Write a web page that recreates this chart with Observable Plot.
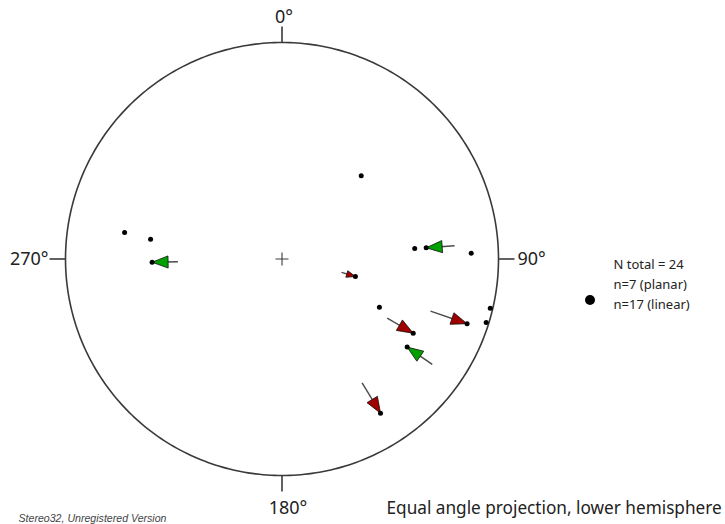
<!DOCTYPE html>
<html>
<head>
<meta charset="utf-8">
<script src="https://cdn.jsdelivr.net/npm/d3@7"></script>
<script src="https://cdn.jsdelivr.net/npm/@observablehq/plot@0.6"></script>
<style>
  html, body { margin: 0; padding: 0; background: #fff; }
  #chart svg { display: block; }
</style>
</head>
<body>
<div id="chart"></div>
<script>
// ---- Data (unit-circle projected coordinates: east = +x, north = +y) ----
// Lineations (black dots)
const linearX = [0.366, 0.613, 0.666, 0.874, 0.339, -0.727, -0.607, -0.600, 0.450, 0.962, 0.943, 0.855, 0.606, 0.578, 0.455];
const linearY = [0.384, 0.048, 0.052, 0.027, -0.081, 0.122, 0.091, -0.015, -0.223, -0.227, -0.293, -0.299, -0.343, -0.407, -0.712];

// Slip arrows (tail -> head)
const arrowTailX = [-0.481, 0.797, 0.275, 0.486, 0.686, 0.694, 0.370];
const arrowTailY = [-0.013, 0.061, -0.062, -0.273, -0.241, -0.487, -0.572];
const arrowHeadX = [-0.600, 0.666, 0.339, 0.606, 0.855, 0.578, 0.455];
const arrowHeadY = [-0.015, 0.052, -0.081, -0.343, -0.299, -0.407, -0.712];
const arrowSense = ["B", "B", "A", "A", "A", "B", "A"];
const senseDomain = ["A", "B"];
const senseColors = ["#a00000", "#00a000"];

// Cardinal directions
const cardinalAngles = [0, 90, 180, 270];
const cardinalLabels = ["0°", "90°", "180°", "270°"];

// Legend / captions
const legendLines = ["N total = 24", "n=7 (planar)", "n=17 (linear)"];
const captionText = "Equal angle projection, lower hemisphere";
const creditText = "Stereo32, Unregistered Version";

// ---- Layout ----
const W = 725, H = 524;
const cx = 281.5, cy = 258.5, R = 216.5;
const X = px => (px - cx) / R;
const Y = py => (cy - py) / R;
const tickOuter = 1 + 16 / R;
const rad = a => a * Math.PI / 180;

const linear = linearX.map((x, i) => ({x, y: linearY[i]}));
const arrows = arrowTailX.map((x1, i) => ({
  x1, y1: arrowTailY[i], x2: arrowHeadX[i], y2: arrowHeadY[i], sense: arrowSense[i]
}));
const cardinals = cardinalAngles.map((a, i) => ({a, label: cardinalLabels[i]}));

// Arrowhead symbol oriented along the arrow (pixel space), tip at the datum
function headSymbol(d) {
  const dx = (d.x2 - d.x1) * R, dy = -(d.y2 - d.y1) * R;
  const len = Math.hypot(dx, dy);
  const ux = dx / len, uy = dy / len;
  const L = Math.min(16, 0.62 * len), Wd = L * 0.76;
  const bx = -ux * L, by = -uy * L, px = -uy * Wd / 2, py = ux * Wd / 2;
  return {
    draw(ctx) {
      ctx.moveTo(0, 0);
      ctx.lineTo(bx + px, by + py);
      ctx.lineTo(bx - px, by - py);
      ctx.closePath();
    }
  };
}
const crossSymbol = {
  draw(ctx) {
    ctx.moveTo(-6.5, 0); ctx.lineTo(6.5, 0);
    ctx.moveTo(0, -6.5); ctx.lineTo(0, 6.5);
  }
};

const font = "'Noto Sans', sans-serif";
const textMark = (data, opts) => Plot.text(data, {fontFamily: font, fill: "#222", ...opts});

const chart = Plot.plot({
  width: W,
  height: H,
  margin: 0,
  x: {domain: [X(0), X(W)], axis: null},
  y: {domain: [Y(H), Y(0)], axis: null},
  color: {domain: senseDomain, range: senseColors},
  style: {background: "#fff"},
  marks: [
    // primitive circle
    Plot.line(d3.range(0, 361, 1), {
      x: a => Math.sin(rad(a)), y: a => Math.cos(rad(a)),
      stroke: "#3a3a3a", strokeWidth: 1.6
    }),
    // cardinal ticks
    Plot.link(cardinals, {
      x1: d => Math.sin(rad(d.a)), y1: d => Math.cos(rad(d.a)),
      x2: d => tickOuter * Math.sin(rad(d.a)), y2: d => tickOuter * Math.cos(rad(d.a)),
      stroke: "#3a3a3a", strokeWidth: 1.6
    }),
    // cardinal labels
    textMark(cardinals.filter(d => d.a === 0), {x: () => X(283.5), y: () => Y(16.5), text: "label", fontSize: 18, lineAnchor: "middle"}),
    textMark(cardinals.filter(d => d.a === 180), {x: () => X(287.5), y: () => Y(507.5), text: "label", fontSize: 18, lineAnchor: "middle"}),
    textMark(cardinals.filter(d => d.a === 90), {x: () => X(517), y: () => Y(259), text: "label", fontSize: 18, textAnchor: "start", lineAnchor: "middle"}),
    textMark(cardinals.filter(d => d.a === 270), {x: () => X(48), y: () => Y(259), text: "label", fontSize: 18, textAnchor: "end", lineAnchor: "middle"}),
    // centre cross
    Plot.dot([0], {x: () => 0, y: () => 0, symbol: crossSymbol, stroke: "#3a3a3a", strokeWidth: 1.1, r: 6}),
    // arrow shafts
    Plot.link(arrows, {x1: "x1", y1: "y1", x2: "x2", y2: "y2", stroke: "#4a4a4a", strokeWidth: 1.4}),
    // arrowheads
    ...arrows.map(d => Plot.dot([d], {
      x: "x2", y: "y2", symbol: headSymbol(d), fill: "sense", stroke: "#111", strokeWidth: 0.8, r: 8
    })),
    // lineation points
    Plot.dot(linear, {x: "x", y: "y", r: 2.5, fill: "#000", stroke: "none"}),
    // legend
    Plot.dot([0], {x: () => X(589.5), y: () => Y(299.5), r: 5, fill: "#000"}),
    textMark([legendLines.join("\n")], {x: () => X(613), y: () => Y(254.5), text: d => d, fontSize: 13, textAnchor: "start", lineAnchor: "top", lineHeight: 1.54}),
    // captions
    textMark([captionText], {x: () => X(386), y: () => Y(507.5), text: d => d, fontSize: 17.2, textAnchor: "start", lineAnchor: "middle"}),
    textMark([creditText], {x: () => X(18), y: () => Y(518), text: d => d, fontSize: 10.6, fontStyle: "italic", fontFamily: "'Liberation Sans', Arial, sans-serif", fill: "#444", textAnchor: "start", lineAnchor: "middle"})
  ]
});
document.getElementById("chart").appendChild(chart);
</script>
</body>
</html>
